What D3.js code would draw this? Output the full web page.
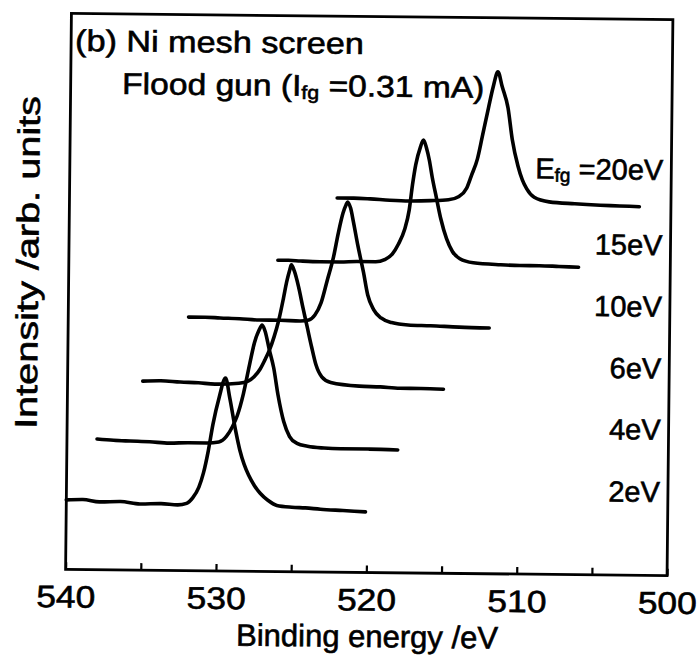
<!DOCTYPE html>
<html>
<head>
<meta charset="utf-8">
<script src="https://cdn.jsdelivr.net/npm/d3@7"></script>
<style>
  body { margin: 0; background: #fff; }
  svg text { font-family: "Liberation Sans", Arial, Helvetica, sans-serif; fill: #000; stroke: #000; stroke-width: 0.6px; }
</style>
</head>
<body>
<div id="chart"></div>
<script>
// O 1s spectra [binding energy (eV), intensity (arb.)], one per flood gun energy
const s2eV = [[540.0,12.5],[538.9,12.6],[537.8,12.2],[536.4,12.3],[535.1,11.9],[533.7,12.0],[532.6,11.8],[532.0,12.1],[531.6,13.1],[531.2,15.0],[530.9,17.6],[530.6,21.5],[530.3,26.4],[529.9,31.3],[529.5,34.7],[529.2,31.1],[528.8,25.4],[528.5,21.8],[528.2,19.2],[527.9,17.3],[527.5,15.4],[527.1,14.0],[526.6,12.8],[526.0,11.9],[525.0,11.6],[524.1,11.5],[523.1,11.3],[521.6,11.1],[520.1,10.9]];
const s4eV = [[538.0,23.5],[536.9,23.3],[535.8,23.2],[534.5,23.1],[533.2,22.9],[531.9,23.0],[530.7,23.0],[529.9,23.2],[529.4,24.2],[529.0,26.0],[528.7,27.9],[528.3,31.9],[527.9,37.3],[527.6,41.1],[527.3,43.4],[527.1,44.3],[526.9,43.2],[526.6,39.8],[526.3,36.6],[526.0,31.8],[525.6,27.0],[525.2,24.3],[524.7,23.1],[524.0,22.6],[522.9,22.3],[521.8,22.2],[519.9,22.2],[518.0,22.1]];
const s6eV = [[535.0,34.0],[533.8,34.1],[532.5,33.9],[531.3,33.8],[530.2,33.6],[528.6,33.8],[528.0,34.2],[527.6,35.0],[527.2,36.4],[526.9,38.0],[526.6,39.8],[526.3,42.2],[526.0,45.2],[525.7,49.2],[525.5,52.1],[525.3,54.3],[525.2,55.2],[525.0,54.1],[524.7,51.2],[524.4,47.5],[524.1,44.0],[523.8,40.5],[523.5,37.3],[523.1,35.1],[522.5,34.1],[520.6,33.5],[519.2,33.4],[517.9,33.2],[516.5,33.2],[515.0,33.1]];
const s10eV = [[532.0,45.6],[530.9,45.6],[529.9,45.5],[528.6,45.4],[527.3,45.2],[525.9,45.2],[524.6,45.1],[524.0,45.3],[523.6,46.2],[523.2,48.4],[522.8,52.5],[522.4,56.7],[522.1,61.0],[521.8,64.6],[521.6,66.1],[521.5,66.6],[521.3,65.5],[521.1,63.0],[520.8,58.9],[520.4,54.0],[520.1,49.9],[519.7,47.3],[519.2,45.8],[518.5,45.0],[517.4,44.6],[515.9,44.5],[514.0,44.3],[512.0,44.2]];
const s15eV = [[526.1,56.0],[525.4,56.0],[524.6,55.9],[523.3,55.8],[522.0,55.8],[520.8,55.9],[519.6,55.9],[519.0,56.3],[518.5,57.3],[518.1,59.1],[517.7,61.7],[517.4,65.3],[517.2,69.8],[517.0,73.4],[516.7,76.6],[516.5,77.9],[516.3,76.5],[516.1,74.3],[515.9,71.3],[515.6,67.5],[515.3,63.8],[514.9,60.2],[514.5,57.9],[514.0,56.6],[513.1,55.9],[511.3,55.6],[510.0,55.5],[508.7,55.5],[507.4,55.4],[506.1,55.3]];
const s20eV = [[522.2,67.3],[521.1,67.3],[520.0,67.2],[518.7,67.0],[517.4,66.9],[516.0,67.0],[514.8,67.2],[514.1,67.8],[513.6,69.3],[513.3,71.5],[512.9,74.6],[512.6,78.5],[512.2,83.8],[511.9,87.6],[511.6,90.3],[511.3,87.6],[510.9,83.8],[510.6,78.2],[510.2,73.4],[509.9,70.9],[509.6,69.3],[509.1,67.8],[508.1,67.0],[506.4,66.7],[504.7,66.5],[503.4,66.4],[502.1,66.3]];

const spectra = [s2eV, s4eV, s6eV, s10eV, s15eV, s20eV];
const energyLabels = ['2eV', '4eV', '6eV', '10eV', '15eV', '=20eV'];
const tickValues = [540, 535, 530, 525, 520, 515, 510, 505, 500];

const width = 700, height = 656;
const margin = { top: 16.5, right: 30, bottom: 83.5, left: 68.5 };

const x = d3.scaleLinear().domain([540, 500]).range([margin.left, width - margin.right]);
const y = d3.scaleLinear().domain([0, 100]).range([height - margin.bottom, margin.top]);

const svg = d3.select('#chart').append('svg').attr('width', width).attr('height', height);

// the scanned figure sits slightly tilted
const g = svg.append('g').attr('transform', 'rotate(0.6,369,294)');

g.append('rect')
  .attr('x', x(540))
  .attr('y', y(100))
  .attr('width', x(500) - x(540))
  .attr('height', y(0) - y(100))
  .attr('fill', 'none')
  .attr('stroke', '#000')
  .attr('stroke-width', 2.8);

const xAxis = d3.axisBottom(x)
  .tickValues(tickValues)
  .tickSize(-7)
  .tickPadding(16)
  .tickFormat((d) => (d % 10 === 0 ? d : ''));

const ax = g.append('g').attr('transform', `translate(0,${y(0)})`).call(xAxis);
ax.select('.domain').remove();
ax.selectAll('line').attr('stroke', '#000').attr('stroke-width', 2.2);
ax.selectAll('text')
  .attr('font-size', 31)
  .attr('fill', '#000')
  .filter((d) => d % 10 === 0)
  .attr('textLength', 59)
  .attr('lengthAdjust', 'spacingAndGlyphs');

const line = d3.line()
  .x((d) => x(d[0]))
  .y((d) => y(d[1]))
  .curve(d3.curveMonotoneX);

g.selectAll('path.spec')
  .data(spectra)
  .join('path')
  .attr('class', 'spec')
  .attr('d', line)
  .attr('fill', 'none')
  .attr('stroke', '#000')
  .attr('stroke-width', 3.6)
  .attr('stroke-linejoin', 'round')
  .attr('stroke-linecap', 'round');

// energy labels sit a little above the right end of each trace
spectra.forEach((s, i) => {
  const last = s[s.length - 1];
  const ty = y(last[1]) - (i === 5 ? 27 : 13);
  const t = g.append('text')
    .attr('x', 662)
    .attr('y', ty)
    .attr('text-anchor', 'end')
    .attr('font-size', 29);
  if (i === 5) {
    t.append('tspan').text('E');
    t.append('tspan').attr('font-size', 19).attr('dy', 3).text('fg');
    t.append('tspan').attr('dy', -3).text(' ' + energyLabels[i]);
  } else {
    t.text(energyLabels[i]);
  }
});

// title lines
const t1 = g.append('g').attr('transform', 'translate(72.5,54) scale(1.14,1)');
t1.append('text').attr('font-size', 30).text('(b) Ni mesh screen');

const t2 = g.append('g').attr('transform', 'translate(120,96.6) scale(1.12,1)');
const t2t = t2.append('text').attr('font-size', 30);
t2t.append('tspan').text('Flood gun (I');
t2t.append('tspan').attr('font-size', 19).attr('dy', 3).text('fg');
t2t.append('tspan').attr('dy', -3).text(' =0.31 mA)');

// axis titles
g.append('text')
  .attr('x', 370.7)
  .attr('y', 647)
  .attr('text-anchor', 'middle')
  .attr('font-size', 31)
  .text('Binding energy /eV');

g.append('text')
  .attr('transform', 'translate(38,266) rotate(-90)')
  .attr('text-anchor', 'middle')
  .attr('font-size', 31)
  .attr('textLength', 333)
  .attr('lengthAdjust', 'spacingAndGlyphs')
  .text('Intensity /arb. units');
</script>
</body>
</html>
